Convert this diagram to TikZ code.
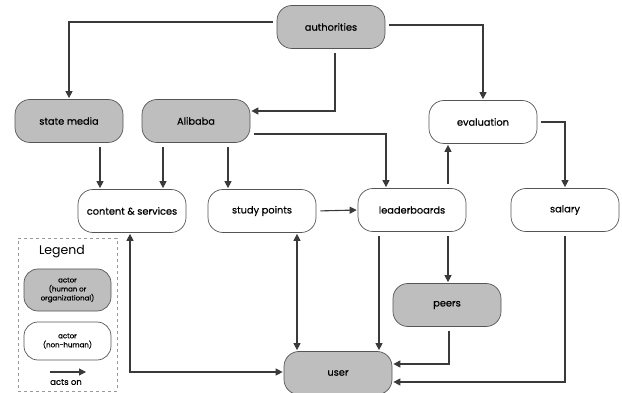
\documentclass[tikz,border=0pt]{standalone}
\usepackage{fontspec}
\setmainfont{Poppins}[FakeBold=0.6]
\newfontfamily\plainfont{Poppins}
\usetikzlibrary{arrows.meta,positioning}
\definecolor{boxgray}{HTML}{BEBEBE}
\definecolor{edgecol}{HTML}{3A3A3A}
\definecolor{bordercol}{HTML}{555555}
\tikzset{
  actor/.style={draw=bordercol, line width=0.7pt, rounded corners=15pt, minimum width=108pt, minimum height=43pt, align=center, font=\fontsize{9.8}{11}\selectfont},
  human/.style={actor, fill=boxgray},
  thing/.style={actor, fill=white},
  arr/.style={draw=edgecol, line width=1.1pt, -{Triangle[length=7pt,width=7pt]}, shorten <=4pt, shorten >=1pt},
  darr/.style={draw=edgecol, line width=1.1pt, {Triangle[length=7pt,width=7pt]}-{Triangle[length=7pt,width=7pt]}, shorten <=1pt, shorten >=1pt},
}
\begin{document}
\begin{tikzpicture}[x=1pt,y=1pt]
\useasboundingbox (0,0) rectangle (622,-393);
% nodes
\node[human] (auth) at (331,-27) {authorities};
\node[human] (sm) at (69,-121) {state media};
\node[human] (ali) at (196,-121) {Alibaba};
\node[thing] (ev) at (483,-122) {evaluation};
\node[thing] (cs) at (132,-211) {content \& services};
\node[thing] (sp) at (262,-211) {study points};
\node[thing] (lb) at (412,-210) {leaderboards};
\node[thing] (sal) at (565,-210) {salary};
\node[human] (peers) at (447,-305) {peers};
\node[human] (user) at (338,-373) {user};
% edges
\draw[arr] ([yshift=5pt]auth.west) -| (sm.north);
\draw[arr] ([xshift=4pt]auth.south) |- ([yshift=10pt]ali.east);
\draw[arr] ([yshift=2pt]auth.east) -| (ev.north);
\draw[arr] ([yshift=-13pt]ali.east) -| ([xshift=-26pt]lb.north);
\draw[arr] ([xshift=31pt]sm.south) -- ([xshift=-32pt]cs.north);
\draw[arr] ([xshift=-33pt]ali.south) -- ([xshift=31pt]cs.north);
\draw[arr] ([xshift=32pt]ali.south) -- ([xshift=-34pt]sp.north);
\draw[arr] (sp.east) -- (lb.west);
\draw[arr] ([xshift=36pt]lb.north) -- ([xshift=-35pt]ev.south);
\draw[arr] (ev.east) -| (sal.north);
\draw[darr] ([xshift=35pt]sp.south) -- ([xshift=-41pt]user.north);
\draw[darr] ([xshift=-2pt]cs.south) |- ([yshift=1pt]user.west);
\draw[arr] ([xshift=-33pt]lb.south) -- ([xshift=41pt]user.north);
\draw[arr] ([xshift=36pt]lb.south) -- ([xshift=1pt]peers.north);
\draw[arr] ([xshift=2pt]peers.south) |- ([yshift=9pt]user.east);
\draw[arr] (sal.south) |- ([yshift=-9pt]user.east);
% legend
\node[draw=gray!80, dashed, line width=0.7pt, minimum width=99pt, minimum height=153pt, inner sep=0pt] (legend) at (67.5,-314.5) {};
\node[font=\plainfont\fontsize{12.5}{14}\selectfont] (legtitle) at (62,-252) {Legend};
\node[human, minimum width=87pt, minimum height=42pt, font=\fontsize{7}{9}\selectfont, rounded corners=14pt] (leghuman) at (67.5,-290) {actor\\(human or\\organizational)};
\node[thing, minimum width=87pt, minimum height=38pt, font=\fontsize{7}{9}\selectfont, rounded corners=14pt] (legthing) at (67.5,-341) {actor\\(non-human)};
\coordinate (lega) at (50,-372);
\coordinate (legb) at (86,-372);
\draw[arr, shorten <=0pt, shorten >=0pt] (lega) -- (legb);
\node[font=\fontsize{8.5}{10}\selectfont] (legtext) at (66,-382) {acts on};
\end{tikzpicture}
\end{document}
